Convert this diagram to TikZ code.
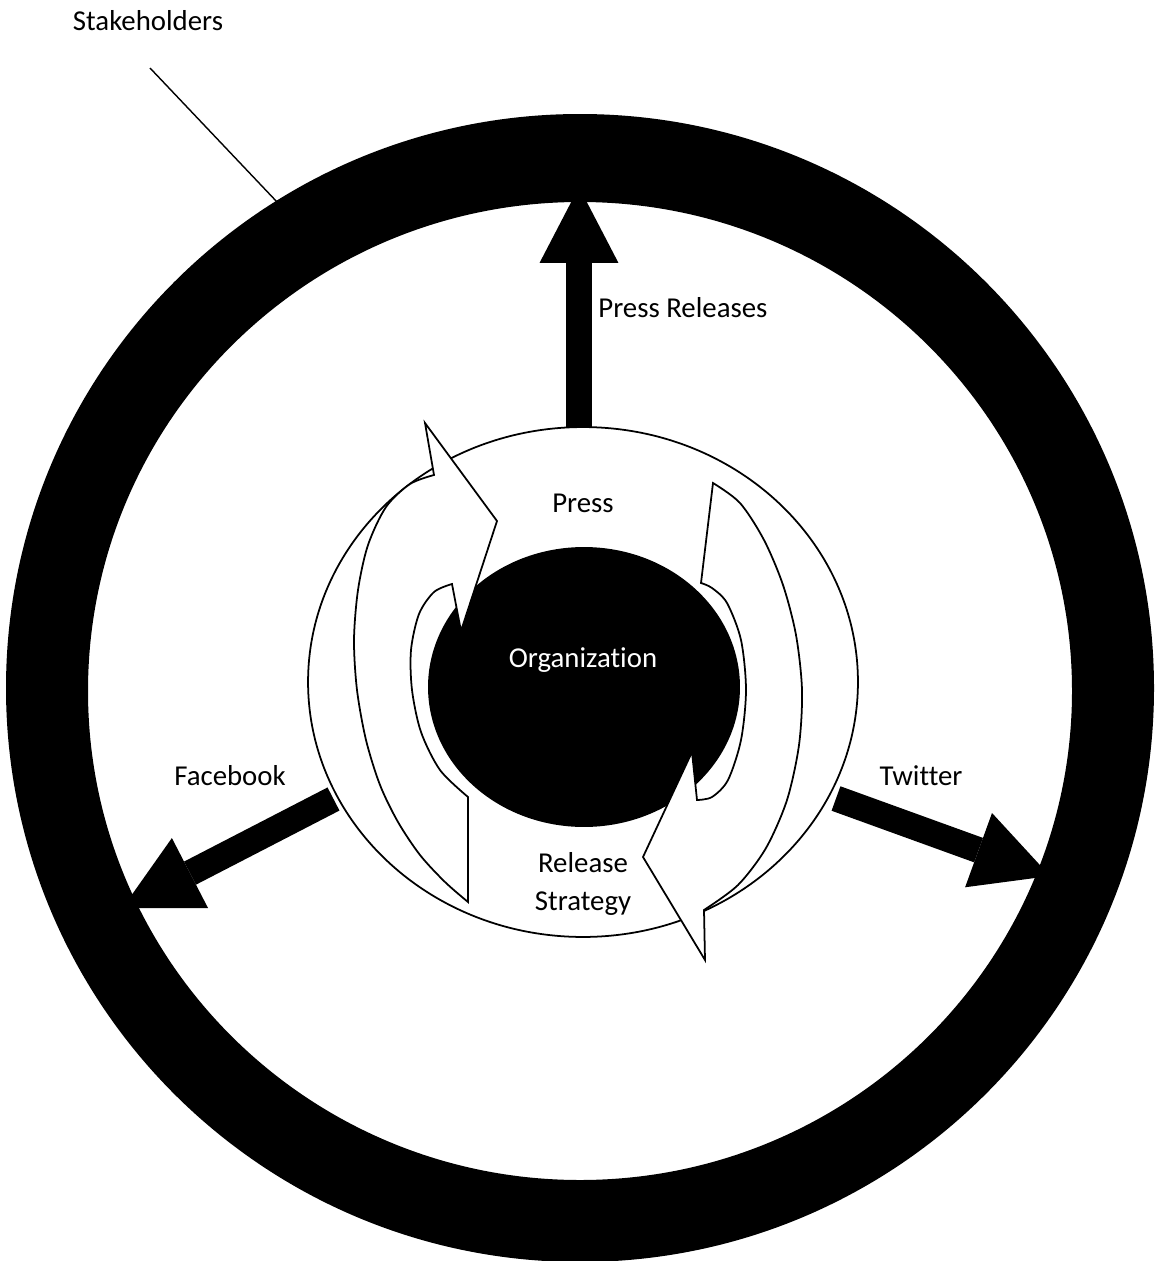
\documentclass[tikz,border=0pt]{standalone}
\usepackage{fontspec}
\setmainfont[Ligatures=CommonOff]{Carlito}
\usetikzlibrary{arrows.meta, shapes.geometric}

\tikzset{
    labeltext/.style={font=\fontsize{16.4}{21.5}\selectfont, inner sep=0pt},
    flowarrow/.style={line width=0.52cm, -{Triangle[length=1.52cm, width=1.58cm, line width=0pt]}},
    cyclearrow/.style={draw, fill=white, line width=1pt, line join=miter},
}

\begin{document}
\begin{tikzpicture}[x=0.02cm, y=-0.02cm]
    \useasboundingbox (0,0) rectangle (1154,1261);

    % Channels out of the hub
    \coordinate (pr-tail) at (579,430);
    \coordinate (pr-tip) at (579,187);
    \coordinate (fb-tail) at (333.5,799);
    \coordinate (fb-tip) at (122.5,908);
    \coordinate (tw-tail) at (836,798.5);
    \coordinate (tw-tip) at (1050,876);
    \foreach \a/\b in {pr-tail/pr-tip, fb-tail/fb-tip, tw-tail/tw-tip}
        \draw[flowarrow] (\a) -- (\b);

    % Stakeholder ring
    \fill[even odd rule] (580,688) circle [radius=574]
        (580,691) ellipse [x radius=492, y radius=489];

    % Hub and organization
    \node[ellipse, draw, fill=white, line width=1pt, minimum width=11cm, minimum height=10.2cm, inner sep=0pt] (hub) at (583,682) {};
    \node[ellipse, fill=black, minimum width=6.24cm, minimum height=5.6cm, inner sep=0pt] (org) at (584,687) {};

    % Cycle arrows
    \draw[cyclearrow] (425,423) -- (497,521) -- (461,631) -- (452,584)
        -- plot[smooth] coordinates {(452,584) (434,592) (419,614) (411,650) (412,690) (421,732) (440,770) (468,797)}
        -- (468,902)
        -- plot[smooth] coordinates {(468,902) (445,882) (420,855) (398,822) (380,785) (366,740) (357,690) (354,640) (358,590) (368,545) (386,507) (410,484) (434,475)}
        -- cycle;
    \draw[cyclearrow] (713,483)
        -- plot[smooth] coordinates {(713,483) (740,503) (764,540) (783,585) (796,635) (802,690) (799,745) (787,800) (766,848) (738,885) (704,910)}
        -- (705,960) -- (643,857) -- (692,752) -- (697,800)
        -- plot[smooth] coordinates {(697,800) (712,797) (728,780) (741,740) (746,690) (741,640) (727,603) (712,588) (701,583)}
        -- cycle;

    % Labels
    \node[labeltext, anchor=base] (stake) at (148,31) {Stakeholders};
    \coordinate (stake-a) at (150,68);
    \coordinate (stake-b) at (278,203);
    \draw[line width=0.8pt] (stake-a) -- (stake-b);
    \node[labeltext, anchor=base west] (prlabel) at (598,317) {Press Releases};
    \node[labeltext, anchor=base] (press) at (583,512) {Press};
    \node[labeltext, anchor=base, text=white] (orglabel) at (583,667) {Organization};
    \node[labeltext, anchor=base] (fb) at (230,785) {Facebook};
    \node[labeltext, anchor=base] (tw) at (921,785) {Twitter};
    \node[labeltext, align=center] (strategy) at (583,884) {Release\\Strategy};
\end{tikzpicture}
\end{document}
